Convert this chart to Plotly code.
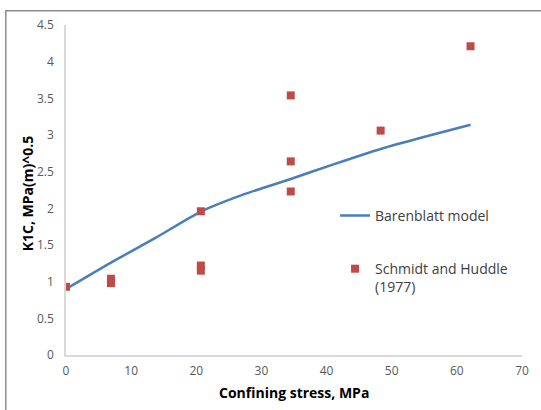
import plotly.graph_objects as go

# Barenblatt model curve
model_stress = [0, 6.9, 13.8, 20.7, 27.6, 34.5, 41.4, 48.3, 55.2, 62.1]
model_k1c = [0.90, 1.26, 1.60, 1.955, 2.20, 2.40, 2.61, 2.81, 2.98, 3.14]

# Schmidt and Huddle (1977) measurements
exp_stress = [0, 6.9, 6.9, 20.7, 20.7, 20.7, 34.5, 34.5, 34.5, 48.3, 62.1]
exp_k1c = [0.93, 1.04, 0.98, 1.96, 1.22, 1.15, 3.54, 2.64, 2.23, 3.06, 4.21]

x_ticks = [0, 10, 20, 30, 40, 50, 60, 70]
y_ticks = [0, 0.5, 1, 1.5, 2, 2.5, 3, 3.5, 4, 4.5]
y_tick_text = ["0", "0.5", "1", "1.5", "2", "2.5", "3", "3.5", "4", "4.5"]

x_title = "Confining stress, MPa"
y_title = "K1C, MPa(m)^0.5"

font_family = "Open Sans, Liberation Sans, sans-serif"

fig = go.Figure()
fig.add_trace(go.Scatter(
    x=model_stress, y=model_k1c, mode="lines",
    name="Barenblatt model",
    line=dict(color="#4A7EBB", width=2.5, shape="spline", smoothing=0.6),
    legendgroup="a",
))
fig.add_trace(go.Scatter(
    x=exp_stress, y=exp_k1c, mode="markers",
    name="Schmidt and Huddle<br>(1977)",
    marker=dict(symbol="square", size=8, color="#BE4B48"),
    legendgroup="b",
))

fig.update_layout(
    width=541, height=410,
    margin=dict(l=66, r=19, t=25, b=55),
    paper_bgcolor="white", plot_bgcolor="white",
    font=dict(family=font_family, color="#404040"),
    showlegend=True,
    legend=dict(
        x=0.59, y=0.47, xanchor="left", yanchor="top",
        font=dict(size=14, color="#404040", family=font_family),
        tracegroupgap=32, valign="top",
        bgcolor="rgba(0,0,0,0)",
    ),
    xaxis=dict(
        range=[0, 70], tickvals=x_ticks, showgrid=False, zeroline=False,
        showline=True, linecolor="#D9D9D9", linewidth=1.5,
        ticks="outside", ticklen=4, tickcolor="rgba(0,0,0,0)",
        tickfont=dict(size=12, color="#595959"), automargin=False,
    ),
    yaxis=dict(
        range=[0, 4.5], tickvals=y_ticks, ticktext=y_tick_text,
        showgrid=False, zeroline=False,
        showline=True, linecolor="#D9D9D9", linewidth=1.5,
        ticks="outside", ticklen=8, tickcolor="rgba(0,0,0,0)",
        tickfont=dict(size=12, color="#595959"), automargin=False,
    ),
    annotations=[
        dict(text="<b>" + x_title + "</b>", xref="paper", yref="paper",
             x=0.5, y=-0.115, xanchor="center", yanchor="middle",
             showarrow=False, font=dict(size=14, color="#000000")),
        dict(text="<b>" + y_title + "</b>", xref="paper", yref="paper",
             x=-0.0855, y=0.49, xanchor="center", yanchor="middle",
             textangle=-90, showarrow=False,
             font=dict(size=14, color="#000000")),
    ],
    shapes=[dict(
        type="rect", xref="paper", yref="paper",
        x0=-0.132, x1=1.2, y0=-0.3, y1=1.043,
        line=dict(color="#8C8C8C", width=1.5), fillcolor="rgba(0,0,0,0)",
        layer="below",
    )],
)

fig.write_html("out.html")
